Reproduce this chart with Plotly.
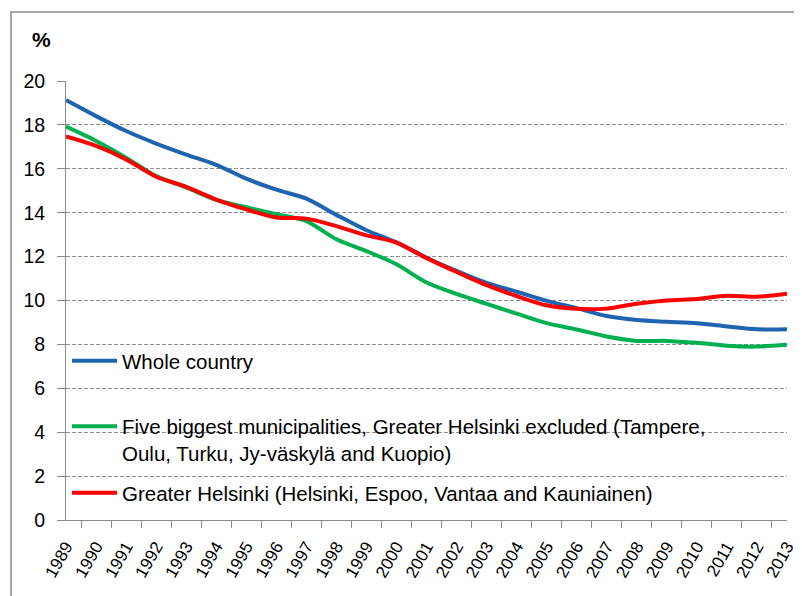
import plotly.graph_objects as go

years = [str(y) for y in range(1989, 2014)]
whole_country = [19.13, 18.40, 17.72, 17.15, 16.65, 16.18, 15.55, 15.05, 14.64, 13.90, 13.20, 12.65,
                 11.95, 11.35, 10.80, 10.40, 9.98, 9.65, 9.29, 9.11, 9.03, 8.96, 8.82, 8.69, 8.69]
five_biggest = [17.92, 17.27, 16.51, 15.67, 15.15, 14.58, 14.25, 13.93, 13.62, 12.79, 12.25, 11.65,
                10.82, 10.30, 9.85, 9.40, 8.97, 8.68, 8.36, 8.16, 8.16, 8.07, 7.94, 7.90, 7.98]
greater_helsinki = [17.47, 17.04, 16.43, 15.64, 15.18, 14.60, 14.15, 13.78, 13.73, 13.39, 12.97, 12.64,
                    11.93, 11.30, 10.70, 10.20, 9.78, 9.62, 9.63, 9.85, 10.00, 10.07, 10.22, 10.17, 10.31]

names = ["Whole country",
         "Five biggest municipalities, Greater Helsinki excluded (Tampere,<br>Oulu, Turku, Jy-väskylä and Kuopio)",
         "Greater Helsinki (Helsinki, Espoo, Vantaa and Kauniainen)"]
colors = ["#1F64B0", "#00B050", "#FF0000"]
series = [whole_country, five_biggest, greater_helsinki]
legends = ["legend", "legend2", "legend3"]

FONT = "Liberation Sans, Arial, sans-serif"

fig = go.Figure()
for name, col, vals, lg in zip(names, colors, series, legends):
    fig.add_trace(go.Scatter(
        x=years, y=vals, name=name, mode="lines",
        line=dict(color=col, width=4, shape="spline", smoothing=0.8),
        legend=lg,
    ))

# page has an 8px body margin; figure is sized so it ends at the window edge
OFF = 8
W, H = 802 - OFF, 596 - OFF
L, T = 66 - OFF, 81 - OFF
R, B = 802 - 787, 596 - 520
pw, ph = W - L - R, H - T - B

def px(x):
    return (x - OFF - L) / pw

def py(y):
    return (H - B - (y - OFF)) / ph

legend_common = dict(
    bgcolor="rgba(0,0,0,0)", borderwidth=0,
    font=dict(family=FONT, size=20.5, color="#000000"),
    itemwidth=45, xanchor="left", yanchor="middle",
    valign="top",
)

fig.update_layout(
    width=W, height=H,
    margin=dict(l=L, r=R, t=T, b=B, autoexpand=False),
    paper_bgcolor="white", plot_bgcolor="white",
    font=dict(family=FONT, color="#000000"),
    showlegend=True,
    legend=dict(x=px(67), y=py(361), **legend_common),
    legend2=dict(x=px(67), y=py(440), **legend_common),
    legend3=dict(x=px(67), y=py(493), **legend_common),
    xaxis=dict(
        type="category", tickson="boundaries", ticks="outside", ticklen=7,
        tickcolor="#8a8a8a", showline=True, linecolor="#8a8a8a", linewidth=1,
        showgrid=False, tickangle=-60, ticklabelstandoff=9, automargin=False,
        tickfont=dict(family=FONT, size=17, color="#000000"),
    ),
    yaxis=dict(
        range=[0, 20], dtick=2, tick0=0, showgrid=True, gridcolor="#8f8f8f",
        griddash="4px,2px", gridwidth=1, showline=True, linecolor="#8a8a8a",
        linewidth=1, ticks="outside", ticklen=8, tickcolor="#8a8a8a",
        ticklabelstandoff=8, zeroline=False, automargin=False,
        tickfont=dict(family=FONT, size=19.5, color="#000000"),
    ),
    shapes=[dict(type="rect", xref="paper", yref="paper",
                 x0=px(11), x1=px(806), y0=py(12), y1=py(600),
                 line=dict(color="#8a8a8a", width=1.5), layer="below")],
    annotations=[dict(text="<b>%</b>", xref="paper", yref="paper",
                      x=px(41), y=py(40), showarrow=False,
                      xanchor="center", yanchor="middle",
                      font=dict(family=FONT, size=21, color="#000000"))],
)

fig.write_html("out.html")
